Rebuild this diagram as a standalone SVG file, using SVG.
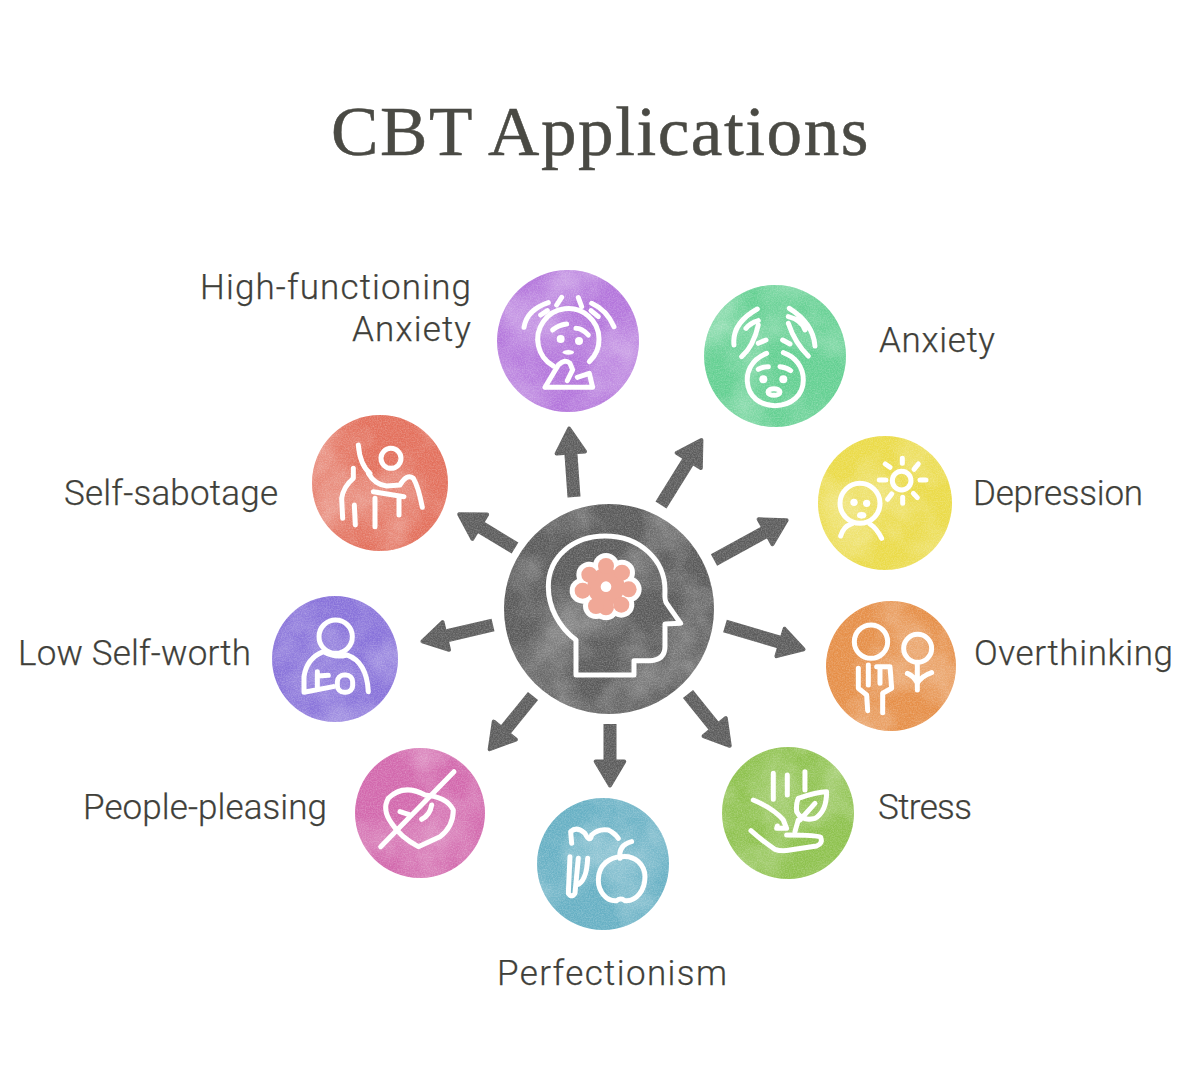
<svg xmlns="http://www.w3.org/2000/svg" xmlns:xlink="http://www.w3.org/1999/xlink" width="1200" height="1080" viewBox="0 0 1200 1080">
<style>
text{font-family:Roboto,"Liberation Sans",sans-serif;font-size:35px;font-weight:300;fill:#3f3f3a;stroke:#3f3f3a;stroke-width:.25}
.title{font-family:"Liberation Serif",serif;font-size:69px;font-weight:400;letter-spacing:1.5px;fill:#4a4a44;stroke:#4a4a44;stroke-width:.5}
.disc{filter:url(#wc)}
.ic{fill:none;stroke:#fff;stroke-width:15;stroke-linecap:round;stroke-linejoin:round}
.ic .d{fill:#fff;stroke:none}
.arrow{stroke:#5c5c5c;stroke-width:13;marker-end:url(#head)}
</style>
<defs>
<filter id="wc" x="-4%" y="-4%" width="108%" height="108%" color-interpolation-filters="sRGB">
<feTurbulence type="fractalNoise" baseFrequency=".017" numOctaves="4" seed="7" result="n"/>
<feColorMatrix in="n" type="matrix" values="0 0 0 0 1  0 0 0 0 1  0 0 0 0 1  .75 0 0 0 -.29" result="a"/>
<feComposite in="a" in2="SourceGraphic" operator="in" result="l"/>
<feTurbulence type="fractalNoise" baseFrequency=".75" numOctaves="2" seed="4" result="g"/>
<feColorMatrix in="g" type="matrix" values="0 0 0 0 1  0 0 0 0 1  0 0 0 0 1  0 .45 0 0 -.15" result="b"/>
<feComposite in="b" in2="SourceGraphic" operator="in" result="gr"/>
<feMerge><feMergeNode in="SourceGraphic"/><feMergeNode in="l"/><feMergeNode in="gr"/></feMerge>
</filter>
<filter id="wa" filterUnits="userSpaceOnUse" x="0" y="0" width="1200" height="1080" color-interpolation-filters="sRGB">
<feTurbulence type="fractalNoise" baseFrequency=".75" numOctaves="2" seed="4" result="g"/>
<feColorMatrix in="g" type="matrix" values="0 0 0 0 1  0 0 0 0 1  0 0 0 0 1  0 .45 0 0 -.15" result="b"/>
<feComposite in="b" in2="SourceGraphic" operator="in" result="gr"/>
<feMerge><feMergeNode in="SourceGraphic"/><feMergeNode in="gr"/></feMerge>
</filter>
<marker id="head" markerUnits="strokeWidth" viewBox="-.3 -1.5 2.6 3" refX=".04" refY="0" markerWidth="2.6" markerHeight="3" orient="auto">
<path d="M0-1.1 1.85 0 0 1.1z" fill="#5c5c5c" stroke="#5c5c5c" stroke-width=".3" stroke-linejoin="round"/>
</marker>
<g id="fl"><circle cx="348" cy="290" r="56"/><circle cx="348" cy="228" r="24"/><circle cx="396" cy="248" r="24"/><circle cx="416" cy="298" r="24"/><circle cx="394" cy="344" r="24"/><circle cx="348" cy="352" r="24"/><circle cx="318" cy="348" r="24"/><circle cx="278" cy="302" r="24"/><circle cx="298" cy="254" r="24"/></g>
</defs>
<rect width="1200" height="1080" fill="#fff"/>
<text class="title" x="331" y="155" textLength="539" lengthAdjust="spacingAndGlyphs">CBT Applications</text>

<g id="connectors" filter="url(#wa)">
<line class="arrow" x1="574" y1="497" x2="570.8" y2="452"/>
<line class="arrow" x1="661" y1="505" x2="689" y2="460"/>
<line class="arrow" x1="714" y1="560" x2="766" y2="531.5"/>
<line class="arrow" x1="725" y1="626" x2="781" y2="642.6"/>
<line class="arrow" x1="688" y1="694" x2="715" y2="727.5"/>
<line class="arrow" x1="610" y1="724" x2="610" y2="762"/>
<line class="arrow" x1="533" y1="696" x2="504.5" y2="731"/>
<line class="arrow" x1="493" y1="625" x2="445.3" y2="636.1"/>
<line class="arrow" x1="515" y1="548" x2="479.3" y2="526.4"/>
</g>

<g id="center">
<circle class="disc" cx="609" cy="609" r="105" fill="#5a5a5a"/>
<g transform="translate(490 490) scale(.3333)">
<path class="ic" d="M258 555V450C205 410 175 350 175 290C175 200 250 138 345 138C450 138 525 210 525 300C525 320 522 330 530 340L572 400L525 402V470C525 495 510 510 480 512H432V555Z"/>
<use xlink:href="#fl" href="#fl" fill="#fff" stroke="#fff" stroke-width="30"/>
<use xlink:href="#fl" href="#fl" fill="#f0a897"/>
<circle cx="348" cy="290" r="16" fill="#fff"/>
</g>
</g>

<g id="high-functioning-anxiety">
<circle class="disc" cx="568" cy="341" r="71" fill="#b476dc"/>
<g class="ic" transform="translate(490 260) scale(.3333)">
<path d="M190 318A92 92 0 1 1 298 305"/>
<path d="M188 210Q205 195 230 192M258 205Q275 205 295 225"/>
<circle class="d" cx="212" cy="237" r="12"/><circle class="d" cx="267" cy="243" r="12"/><ellipse class="d" cx="235" cy="277" rx="17" ry="7"/>
<path d="M165 382H308L298 340L262 352M165 382L205 315Q225 295 240 310L248 330L232 362"/>
<path d="M102 202Q110 150 175 128M372 200Q350 150 305 130M152 165L172 152M200 135L215 112M265 113L275 140M303 152L325 170"/>
</g>
<text x="200" y="299" textLength="271">High-functioning</text>
<text x="352" y="341" textLength="119">Anxiety</text>
</g>

<g id="anxiety">
<circle class="disc" cx="775" cy="356" r="71" fill="#64d092"/>
<g class="ic" transform="translate(490 260) scale(.3333)">
<path d="M732 255Q725 190 802 147M755 290Q790 260 805 195M768 205Q780 190 805 182M975 258Q970 190 898 145M955 288Q915 250 895 190M895 170Q935 180 945 210M805 250L828 240M878 240L900 252"/>
<path d="M830 280C780 300 770 340 772 365C775 410 810 437 855 437C905 437 940 405 940 360C940 320 915 290 880 278"/>
<path d="M805 328Q820 320 835 320M870 320Q890 322 902 332"/>
<circle class="d" cx="820" cy="358" r="12"/><circle class="d" cx="880" cy="358" r="12"/>
<ellipse cx="852" cy="396" rx="18" ry="10"/>
</g>
<text x="879" y="352" textLength="116">Anxiety</text>
</g>

<g id="depression">
<circle class="disc" cx="885" cy="503" r="67" fill="#ebdb48"/>
<g class="ic" transform="translate(810 430) scale(.3333)">
<circle cx="150" cy="220" r="60"/>
<circle class="d" cx="132" cy="217" r="11"/><circle class="d" cx="170" cy="220" r="11"/><ellipse class="d" cx="155" cy="256" rx="14" ry="10"/>
<path d="M92 318Q100 290 125 282M180 282Q200 295 215 325"/>
<circle cx="275" cy="152" r="28"/>
<path d="M277 85V100M312 118L325 102M330 150H348M310 190L322 203M278 202V220M245 192L233 208M228 150H208M240 112L226 102"/>
</g>
<text x="973" y="505" textLength="170">Depression</text>
</g>

<g id="overthinking">
<circle class="disc" cx="891" cy="666" r="65" fill="#e68f48"/>
<g class="ic" transform="translate(810 430) scale(.3333)">
<circle cx="183" cy="635" r="50"/><circle cx="323" cy="655" r="42"/>
<path d="M145 715V775L170 795L173 842M175 705V765M200 710H240L245 775L218 790V848M210 710V760"/>
<path d="M322 705V780M292 730Q312 738 322 760Q335 738 365 728"/>
</g>
<text x="974" y="665" textLength="199">Overthinking</text>
</g>

<g id="stress">
<circle class="disc" cx="788" cy="813" r="66" fill="#8ec24e"/>
<g class="ic" transform="translate(350 740) scale(.3333)">
<path d="M1210 180Q1270 205 1300 240L1310 265H1280L1282 258M1203 272Q1240 305 1275 328Q1295 335 1320 330L1400 318Q1420 310 1412 292Q1405 285 1310 285"/>
<path d="M1345 175Q1400 155 1430 155Q1430 215 1395 235Q1355 245 1340 215Q1338 190 1345 175ZM1350 240L1395 190M1345 240L1335 275M1365 95V150M1270 100V178M1312 105V165"/>
</g>
<text x="878" y="819" textLength="94">Stress</text>
</g>

<g id="perfectionism">
<circle class="disc" cx="603" cy="864" r="66" fill="#67b0c4"/>
<g class="ic" transform="translate(350 740) scale(.3333)">
<path d="M815 350C780 350 745 375 745 420C745 455 770 485 800 482Q812 472 825 482C860 485 885 450 885 410C885 375 855 345 815 350M810 355Q805 315 845 305"/>
<path d="M665 310L662 275Q680 258 705 280Q720 310 725 285Q745 265 775 270Q795 280 805 295M660 350L655 460Q665 475 675 460L685 355M680 435Q710 425 713 355"/>
</g>
<text x="497" y="985" textLength="230">Perfectionism</text>
</g>

<g id="people-pleasing">
<circle class="disc" cx="420" cy="813" r="65" fill="#d268ad"/>
<g class="ic" transform="translate(350 740) scale(.3333)">
<path d="M205 320Q150 290 125 250Q95 210 115 175Q160 130 225 165Q290 170 310 210Q310 260 270 290Z"/>
<path d="M92 320L312 95M150 215L180 225M215 238Q240 225 245 195"/>
</g>
<text x="83" y="819" textLength="244">People-pleasing</text>
</g>

<g id="low-self-worth">
<circle class="disc" cx="335" cy="659" r="63" fill="#8872da"/>
<g class="ic" transform="translate(300 410) scale(.3333)">
<circle cx="107" cy="680" r="50"/>
<path d="M70 725Q20 745 12 800V847L100 830M52 785V830M55 798L85 796M70 725Q105 745 140 735Q200 755 205 845"/>
<rect x="112" y="795" width="46" height="52" rx="20"/>
</g>
<text x="18" y="665" textLength="233">Low Self-worth</text>
</g>

<g id="self-sabotage">
<circle class="disc" cx="380" cy="483" r="68" fill="#e3705c"/>
<g class="ic" transform="translate(300 410) scale(.3333)">
<circle cx="273" cy="145" r="30"/>
<path d="M175 105Q180 165 210 190M205 190Q225 225 260 228L300 225Q320 190 340 205Q355 230 367 292M160 175V205Q130 230 125 265L128 325M163 285L166 345M225 265V350M220 245L312 260M297 262V315"/>
</g>
<text x="64" y="505" textLength="214">Self-sabotage</text>
</g>
</svg>
